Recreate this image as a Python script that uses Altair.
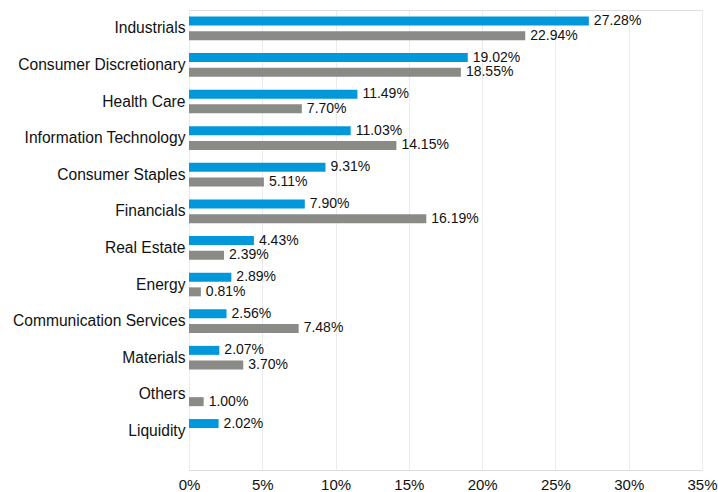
import altair as alt
import pandas as pd

categories = ["Industrials", "Consumer Discretionary", "Health Care", "Information Technology",
              "Consumer Staples", "Financials", "Real Estate", "Energy",
              "Communication Services", "Materials", "Others", "Liquidity"]
fund = [27.28, 19.02, 11.49, 11.03, 9.31, 7.90, 4.43, 2.89, 2.56, 2.07, None, 2.02]
benchmark = [22.94, 18.55, 7.70, 14.15, 5.11, 16.19, 2.39, 0.81, 7.48, 3.70, 1.00, None]
series = ["Fund", "Benchmark"]
colors = ["#0098DA", "#8A8A87"]
ticks = [0, 0.05, 0.10, 0.15, 0.20, 0.25, 0.30, 0.35]

rows = []
for c, f, b in zip(categories, fund, benchmark):
    if f is not None:
        rows.append({"category": c, "series": "Fund", "value": f / 100})
    if b is not None:
        rows.append({"category": c, "series": "Benchmark", "value": b / 100})
df = pd.DataFrame(rows)

y = alt.Y("category:N", sort=categories, title=None,
          scale=alt.Scale(paddingInner=0, paddingOuter=0.284, align=0),
          axis=alt.Axis(ticks=False, domain=False, labelPadding=4, labelFontSize=15.6,
                        labelFont="Liberation Sans", labelColor="#111111", labelLimit=300))
yoff = alt.YOffset("series:N", sort=series,
                   scale=alt.Scale(domain=series, paddingInner=0.388, paddingOuter=0.439))
x = alt.X("value:Q", title=None,
          scale=alt.Scale(domain=[0, 0.35], nice=False),
          axis=alt.Axis(values=ticks, format=".0%", grid=True, gridColor="#EBEBEB",
                        domain=False, ticks=False, labelPadding=7, labelFontSize=15,
                        labelFlush=False, labelOverlap=False,
                        labelFont="Liberation Sans", labelColor="#111111"))

base = alt.Chart(df)
bars = base.mark_bar().encode(
    y=y, yOffset=yoff, x=x,
    color=alt.Color("series:N", scale=alt.Scale(domain=series, range=colors), legend=None),
)
labels = base.mark_text(align="left", baseline="middle", dx=5, fontSize=14,
                        font="Liberation Sans", color="#111111").encode(
    y=y, yOffset=yoff, x=x,
    text=alt.Text("value:Q", format=".2%"),
)

chart = (bars + labels).properties(
    width=513, height=460,
    autosize=alt.AutoSizeParams(type="none"),
    padding={"left": 189, "top": 10, "right": 16, "bottom": 22},
).configure_view(stroke=None).configure(background="white")

chart.save("out.html", embed_options={"renderer": "svg", "actions": False})
